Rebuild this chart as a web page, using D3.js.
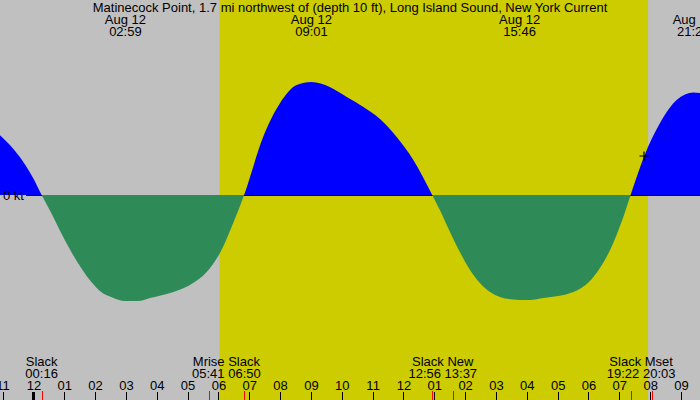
<!DOCTYPE html>
<html><head><meta charset="utf-8">
<script src="https://cdn.jsdelivr.net/npm/d3@7"></script>
<style>body{margin:0;background:#c0c0c0}svg{display:block}text{font-family:"Liberation Sans",Arial,sans-serif;fill:#000}</style>
</head><body><svg id="c" width="700" height="400"></svg>
<script>
const title = "Matinecock Point, 1.7 mi northwest of (depth 10 ft), Long Island Sound, New York Current";
const chartStart = "2026-08-11T22:55";
const chartEnd = "2026-08-12T21:37";
const sunrise = "06:02";
const sunset = "19:56";
// hours after Aug 12 00:00 and current speed (kt, + flood / - ebb)
const curveHours = [-1.09,-0.44,-0.01,0.267,0.58,0.90,1.23,1.55,1.88,2.20,2.52,2.983,3.39,3.78,4.54,5.18,5.62,6.05,6.48,6.833,7.45,8.00,8.54,9.017,9.61,10.16,10.70,11.24,11.78,12.32,12.933,13.18,13.51,13.83,14.16,14.48,14.81,15.13,15.56,15.767,16.10,16.54,17.51,18.16,18.70,19.13,19.367,19.81,20.32,20.86,21.40,21.62];
const curveKnots = [0.60,0.38,0.17,0,-0.18,-0.38,-0.57,-0.73,-0.87,-0.97,-1.02,-1.06,-1.06,-1.03,-0.97,-0.88,-0.77,-0.58,-0.28,0,0.58,0.92,1.10,1.13,1.08,0.98,0.88,0.76,0.58,0.35,0,-0.15,-0.37,-0.57,-0.75,-0.88,-0.97,-1.02,-1.045,-1.05,-1.05,-1.03,-0.97,-0.82,-0.55,-0.22,0,0.39,0.72,0.95,1.025,1.02];
const peakDates = ["Aug 12","Aug 12","Aug 12","Aug 12"];
const peakTimes = ["02:59","09:01","15:46","21:24"];
const eventNames = ["Slack","Mrise","Slack","Slack","New","Slack","Mset"];
const eventTimes = ["00:16","05:41","06:50","12:56","13:37","19:22","20:03"];
const nowTime = "19:48";
const nowKnots = 0.39;
const zeroLabel = "0 kt";

const W = 700, H = 400, FS = 13;
const parse = d3.timeParse("%Y-%m-%dT%H:%M");
const day = "2026-08-12T";
const base = parse(day + "00:00");
const at = t => parse(day + t);
const fromHours = h => new Date(base.getTime() + h * 3600e3);

const x = d3.scaleTime().domain([parse(chartStart), parse(chartEnd)]).range([0, W]);
const y = d3.scaleLinear().domain([-1, 1]).range([295, 95]);
const y0 = Math.round(y(0));

const svg = d3.select("#c");
svg.append("rect").attr("width", W).attr("height", H).attr("fill", "#c0c0c0");
svg.append("rect").attr("x", x(at(sunrise))).attr("y", 0)
  .attr("width", x(at(sunset)) - x(at(sunrise))).attr("height", H).attr("fill", "#cccc00");

const data = curveHours.map((h, i) => ({t: fromHours(h), v: curveKnots[i]}));
const area = d3.area().x(d => x(d.t)).y0(y0).y1(d => y(d.v)).curve(d3.curveMonotoneX);
const defs = svg.append("defs");
defs.append("clipPath").attr("id", "above").append("rect").attr("x", 0).attr("y", 0).attr("width", W).attr("height", y0);
defs.append("clipPath").attr("id", "below").append("rect").attr("x", 0).attr("y", y0).attr("width", W).attr("height", H - y0);

svg.append("path").datum(data).attr("d", area).attr("fill", "#0000ff").attr("clip-path", "url(#above)");
svg.append("line").attr("x1", 26).attr("x2", W).attr("y1", y0 + 0.5).attr("y2", y0 + 0.5)
  .attr("stroke", "#000").attr("stroke-width", 1);
svg.append("path").datum(data).attr("d", area).attr("fill", "#2e8b57").attr("clip-path", "url(#below)");

svg.append("text").attr("x", 24).attr("y", y0 + 4.5).attr("text-anchor", "end")
  .attr("font-size", FS).text(zeroLabel);

// now marker
const nx = x(at(nowTime)), ny = y(nowKnots);
svg.append("path").attr("d", `M${nx - 4.5},${ny}H${nx + 4.5}M${nx},${ny - 4.5}V${ny + 4.5}`)
  .attr("stroke", "#000").attr("stroke-width", 1.2);

// title + peaks
svg.append("text").attr("x", W / 2).attr("y", 12).attr("text-anchor", "middle")
  .attr("font-size", FS).text(title);
peakTimes.forEach((t, i) => {
  const px = x(at(t));
  svg.append("text").attr("x", px).attr("y", 24).attr("text-anchor", "middle").attr("font-size", FS).text(peakDates[i]);
  svg.append("text").attr("x", px).attr("y", 36).attr("text-anchor", "middle").attr("font-size", FS).text(t);
});

// events (merged when close)
const events = eventNames.map((n, i) => ({name: n, time: eventTimes[i], d: at(eventTimes[i])}));
const groups = [];
events.forEach(e => {
  const g = groups[groups.length - 1];
  if (g && (e.d - g[g.length - 1].d) < 2 * 3600e3) g.push(e); else groups.push([e]);
});
groups.forEach(g => {
  const gx = (x(g[0].d) + x(g[g.length - 1].d)) / 2;
  svg.append("text").attr("x", gx).attr("y", 366).attr("text-anchor", "middle").attr("font-size", FS)
    .text(g.map(e => e.name).join(" "));
  svg.append("text").attr("x", gx).attr("y", 378).attr("text-anchor", "middle").attr("font-size", FS)
    .text(g.map(e => e.time).join(" "));
});

// hour axis
const axis = d3.axisTop(x).ticks(d3.timeHour.every(1)).tickFormat(d3.timeFormat("%I"))
  .tickSize(8).tickPadding(2);
const ax = svg.append("g").attr("transform", `translate(0,${H})`).call(axis);
ax.select(".domain").remove();
ax.selectAll("text").attr("font-size", FS).attr("font-family", '"Liberation Sans",Arial,sans-serif').attr("fill", "#000");
ax.selectAll(".tick line").attr("stroke", "#000").attr("shape-rendering", "crispEdges")
  .attr("stroke-width", d => d.getHours() === 0 ? 3 : 1);

// event ticks (red)
svg.selectAll(".ev").data(events).enter().append("line")
  .attr("x1", d => Math.round(x(d.d)) + 0.5).attr("x2", d => Math.round(x(d.d)) + 0.5)
  .attr("y1", H - 9).attr("y2", H).attr("stroke", "#ff0000").attr("stroke-width", 1);
</script></body></html>
